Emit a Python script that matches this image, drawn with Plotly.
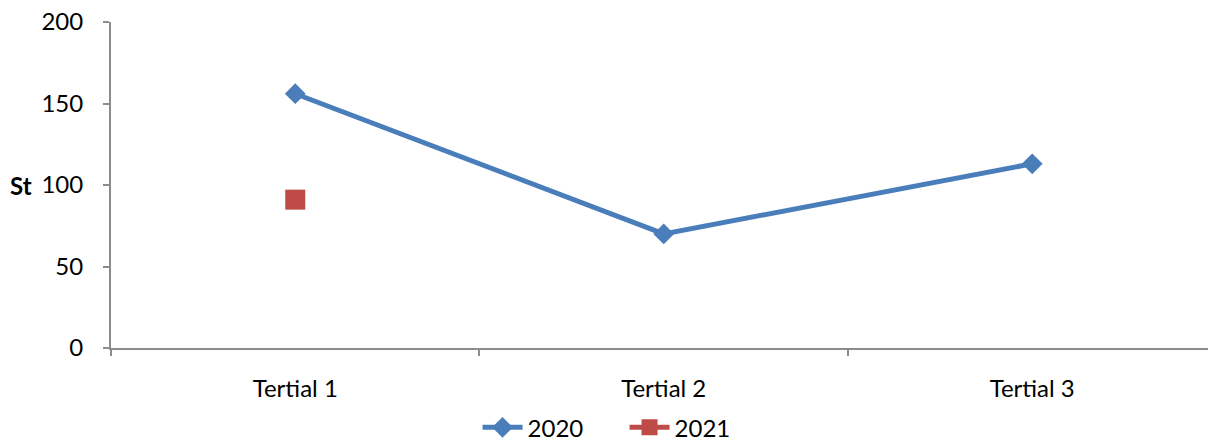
import plotly.graph_objects as go

categories = ["Tertial 1", "Tertial 2", "Tertial 3"]
values_2020 = [156, 70, 113]
values_2021 = [91, None, None]
y_ticks = [0, 50, 100, 150, 200]

FONT = "Lato"
AXIS_GRAY = "#8c8c8c"

fig = go.Figure()
fig.add_trace(go.Scatter(
    x=categories, y=values_2020, name="2020", mode="lines+markers",
    line=dict(color="#4a7ebb", width=5),
    marker=dict(symbol="diamond", size=16, color="#4a7ebb"),
))
fig.add_trace(go.Scatter(
    x=categories, y=values_2021, name="2021", mode="lines+markers",
    line=dict(color="#be4b48", width=5),
    marker=dict(symbol="square", size=20, color="#be4b48"),
))

fig.update_layout(
    width=1208, height=441,
    margin=dict(l=111, r=0, t=22, b=93),
    plot_bgcolor="white", paper_bgcolor="white",
    font=dict(family=FONT, size=24, color="#000000"),
    showlegend=True,
    legend=dict(
        orientation="h", xref="container", yref="container",
        x=0.517, xanchor="center", y=0.03, yanchor="middle",
        font=dict(size=24), itemwidth=40,
        entrywidth=92, entrywidthmode="pixels",
    ),
    xaxis=dict(
        type="category", range=[-0.5, 2.477], tickson="boundaries",
        showgrid=False, showline=True, linecolor=AXIS_GRAY, linewidth=2,
        ticks="outside", ticklen=6, tickcolor=AXIS_GRAY, tickwidth=2,
        ticklabelstandoff=18, zeroline=False,
    ),
    yaxis=dict(
        range=[0, 200], tickvals=y_ticks, showgrid=False,
        showline=True, linecolor=AXIS_GRAY, linewidth=2,
        ticks="outside", ticklen=6, tickcolor=AXIS_GRAY, tickwidth=2,
        ticklabelstandoff=15, zeroline=False,
    ),
    annotations=[dict(
        text="<b>St</b>", xref="paper", yref="y", x=0, y=100,
        xanchor="center", xshift=-90, showarrow=False, font=dict(size=24),
    )],
)

fig.write_html(
    "out.html",
    config={"displayModeBar": False},
    post_script="document.body.style.margin='0';",
)
